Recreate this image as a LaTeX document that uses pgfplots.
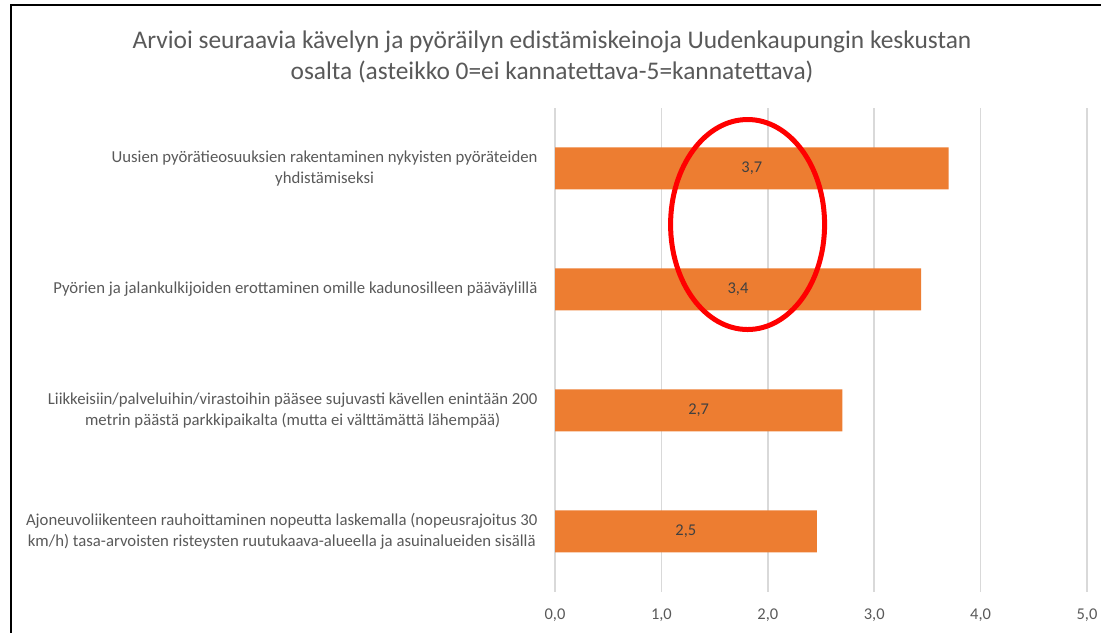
\documentclass[border=0pt]{standalone}
\usepackage{pgfplots}
\pgfplotsset{compat=1.18}
\usepackage{pgfplotstable}
\usepackage{fontspec}
\setmainfont{Carlito}
\definecolor{barorange}{HTML}{ED7D31}
\definecolor{gridgray}{HTML}{D9D9D9}
\definecolor{textgray}{HTML}{595959}
\definecolor{labelgray}{HTML}{404040}
\pgfplotstableread{
y val
4 3.70
3 3.44
2 2.70
1 2.46
}\datatable
\begin{document}
\begin{tikzpicture}[x=1bp,y=1bp]
\begin{axis}[
  at={(555bp,41bp)}, anchor=south west,
  scale only axis, width=532bp, height=484bp,
  xmin=0, xmax=5, ymin=0.5, ymax=4.5,
  xtick={0,1,2,3,4,5},
  ytick={1,2,3,4},
  yticklabels={
    {Ajoneuvoliikenteen rauhoittaminen nopeutta laskemalla (nopeusrajoitus 30\\km/h) tasa-arvoisten risteysten ruutukaava-alueella ja asuinalueiden sisällä},
    {Liikkeisiin/palveluihin/virastoihin pääsee sujuvasti kävellen enintään 200\\metrin päästä parkkipaikalta (mutta ei välttämättä lähempää)},
    {Pyörien ja jalankulkijoiden erottaminen omille kadunosilleen pääväylillä},
    {Uusien pyörätieosuuksien rakentaminen nykyisten pyöräteiden\\yhdistämiseksi}},
  axis line style={draw=none},
  major tick length=0pt,
  xmajorgrids, major grid style={gridgray, line width=1.5bp},
  /pgf/number format/assume math mode=true,
  /pgf/number format/use comma,
  /pgf/number format/fixed,
  /pgf/number format/fixed zerofill,
  /pgf/number format/precision=1,
  xticklabel style={font=\fontsize{16.5}{19}\selectfont, text=textgray, yshift=-13bp},
  yticklabel style={font=\fontsize{16.8}{20.5}\selectfont, text=textgray, align=center, xshift=-14bp},
  clip=false,
]
\addplot[xbar, fill=barorange, draw=none, bar width=42bp,
  nodes near coords, point meta=x,
  visualization depends on={rawx \as \rawx},
  every node near coord/.append style={anchor=center, xshift={-\rawx*53.2bp}, font=\fontsize{16.5}{19}\selectfont, text=labelgray},
] table[x=val,y=y]{\datatable};
\draw[red, line width=5bp] (axis cs:1.81,3.537) ellipse [x radius=77bp, y radius=105bp];
\end{axis}
\node[font=\fontsize{25.5}{31}\selectfont, text=textgray, align=center] at (552,576) {Arvioi seuraavia kävelyn ja pyöräilyn edistämiskeinoja Uudenkaupungin keskustan\\osalta (asteikko 0=ei kannatettava-5=kannatettava)};
\draw[black, line width=2bp] (11,-10) -- (11,628) -- (1120,628);
\pgfresetboundingbox
\useasboundingbox (0,0) rectangle (1101,633);
\end{tikzpicture}
\end{document}
